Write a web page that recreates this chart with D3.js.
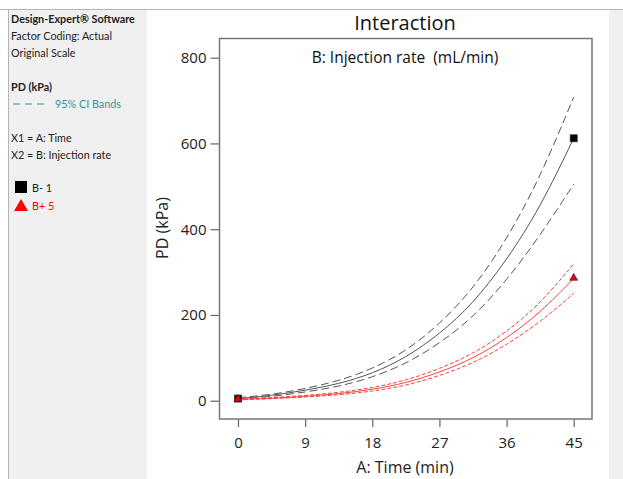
<!DOCTYPE html>
<html><head><meta charset="utf-8">
<script src="https://cdn.jsdelivr.net/npm/d3@7"></script>
<style>
html,body{margin:0;padding:0;background:#fff;}
svg{display:block;font-family:"Open Sans","Noto Sans",sans-serif;}
</style></head>
<body><svg id="c" width="623" height="479"></svg>
<script>
// ---- data ----
const timePts = [0, 4.5, 9, 13.5, 18, 22.5, 27, 31.5, 36, 40.5, 45];
const bLowFit   = [5, 12, 24, 39, 63, 100, 155, 226, 327, 450, 612];
const bLowUpper = [7, 14, 28, 46, 74, 115, 178, 260, 375, 520, 708];
const bLowLower = [3.5, 9.5, 20, 33, 54, 86, 133, 194, 280, 385, 505];
const bHighFit   = [3, 5.5, 10, 16, 26, 41, 66, 98, 145, 205, 285];
const bHighUpper = [4, 7, 12, 19, 30, 47, 74, 109, 160, 226, 319];
const bHighLower = [2, 4.5, 8.5, 13.5, 22, 35, 58, 87, 130, 183, 250];
const pointsLow  = [[0, 5], [45, 612]];
const pointsHigh = [[0, 3], [45, 285]];
const xTicks = [0, 9, 18, 27, 36, 45];
const yTicks = [0, 200, 400, 600, 800];
const legendLines = ["Design-Expert® Software", "Factor Coding: Actual", "Original Scale"];

const svg = d3.select("#c");

// background panels
svg.append("rect").attr("x", 8).attr("y", 9).attr("width", 139).attr("height", 470).attr("fill", "#f0f0f0");
svg.append("rect").attr("x", 609).attr("y", 9).attr("width", 14).attr("height", 470).attr("fill", "#f0f0f0");
svg.append("line").attr("x1", 0).attr("x2", 623).attr("y1", 9.5).attr("y2", 9.5).attr("stroke", "#b4b4b4");
svg.append("line").attr("x1", 8.5).attr("x2", 8.5).attr("y1", 9).attr("y2", 479).attr("stroke", "#b4b4b4");

// legend panel text
const lg = svg.append("g").attr("font-size", 10.8).attr("fill", "#222").attr("font-family", "Lato, sans-serif");
lg.append("text").attr("x", 11).attr("y", 23).attr("font-weight", "bold").text(legendLines[0]);
lg.append("text").attr("x", 11).attr("y", 40).text(legendLines[1]);
lg.append("text").attr("x", 11).attr("y", 57).text(legendLines[2]);
lg.append("text").attr("x", 11).attr("y", 91).attr("font-weight", "bold").text("PD (kPa)");
lg.append("line").attr("x1", 13).attr("x2", 48).attr("y1", 104).attr("y2", 104)
  .attr("stroke", "#2a9a9a").attr("stroke-width", 1.2).attr("stroke-dasharray", "7,5");
lg.append("text").attr("x", 55).attr("y", 108).attr("fill", "#2a9a9a").text("95% CI Bands");
lg.append("text").attr("x", 11).attr("y", 142).text("X1 = A: Time");
lg.append("text").attr("x", 11).attr("y", 159).text("X2 = B: Injection rate");
lg.append("rect").attr("x", 15).attr("y", 181).attr("width", 12).attr("height", 12).attr("fill", "#000");
lg.append("text").attr("x", 32).attr("y", 192).text("B- 1");
lg.append("path").attr("d", "M21,199 L28,211 L14,211 Z").attr("fill", "#ff0000");
lg.append("text").attr("x", 32).attr("y", 210).attr("fill", "#ff0000").text("B+ 5");

// scales
const x = d3.scaleLinear().domain([0, 45]).range([238, 573.7]);
const y = d3.scaleLinear().domain([0, 800]).range([400.7, 57.7]);
const frame = {l: 219.5, t: 38.5, r: 592, b: 419};

// titles
svg.append("text").attr("x", 405).attr("y", 30).attr("text-anchor", "middle")
  .attr("font-size", 20).attr("fill", "#111").text("Interaction");
svg.append("text").attr("x", 405).attr("y", 63).attr("text-anchor", "middle")
  .attr("font-size", 15.5).attr("fill", "#111").attr("xml:space", "preserve")
  .text("B: Injection rate\u00a0\u00a0(mL/min)");

// axes
const yAxis = svg.append("g").attr("transform", `translate(${frame.l},0)`)
  .call(d3.axisLeft(y).tickValues(yTicks).tickSize(9).tickPadding(4).tickSizeOuter(0));
yAxis.select(".domain").remove();
yAxis.selectAll("line").attr("stroke", "#666").attr("stroke-width", 1.2);
yAxis.selectAll("text").attr("font-size", 15).attr("fill", "#222").attr("font-family", "Open Sans, sans-serif");

const xAxis = svg.append("g").attr("transform", `translate(0,${frame.b})`)
  .call(d3.axisBottom(x).tickValues(xTicks).tickSize(8).tickPadding(10).tickSizeOuter(0));
xAxis.select(".domain").remove();
xAxis.selectAll("line").attr("stroke", "#666").attr("stroke-width", 1.2);
xAxis.selectAll("text").attr("font-size", 15).attr("fill", "#222").attr("font-family", "Open Sans, sans-serif");

svg.append("text").attr("x", 405).attr("y", 473).attr("text-anchor", "middle")
  .attr("font-size", 16).attr("fill", "#222").text("A: Time (min)");
svg.append("text").attr("transform", "translate(168,228) rotate(-90)").attr("text-anchor", "middle")
  .attr("font-size", 16).attr("fill", "#222").text("PD (kPa)");

// frame
svg.append("rect").attr("x", frame.l).attr("y", frame.t).attr("width", frame.r - frame.l)
  .attr("height", frame.b - frame.t).attr("fill", "none").attr("stroke", "#777").attr("stroke-width", 1.5);

// curves
const line = d3.line().x(d => x(d[0])).y(d => y(d[1])).curve(d3.curveBasis);
const zip = arr => timePts.map((t, i) => [t, arr[i]]);
const curves = [
  {v: bLowUpper, c: "#555", w: 1, dash: "8,4"},
  {v: bLowLower, c: "#555", w: 1, dash: "8,4"},
  {v: bLowFit, c: "#555", w: 1, dash: null},
  {v: bHighUpper, c: "#ff4040", w: 1, dash: "4,2"},
  {v: bHighLower, c: "#ff4040", w: 1, dash: "4,2"},
  {v: bHighFit, c: "#ff4040", w: 1, dash: null}
];
svg.append("g").selectAll("path").data(curves).join("path")
  .attr("d", d => line(zip(d.v))).attr("fill", "none")
  .attr("stroke", d => d.c).attr("stroke-width", d => d.w)
  .attr("stroke-dasharray", d => d.dash);

// markers
svg.append("g").selectAll("rect").data(pointsLow).join("rect")
  .attr("x", d => x(d[0]) - 3.5).attr("y", d => y(d[1]) - 3.5)
  .attr("width", 7).attr("height", 7).attr("fill", "#000").attr("stroke", "#333").attr("stroke-width", 0.8);
const tri = d3.symbol().type(d3.symbolTriangle).size(28);
svg.append("g").selectAll("path").data(pointsHigh).join("path")
  .attr("transform", d => `translate(${x(d[0])},${y(d[1]) - 0.5})`)
  .attr("d", tri).attr("fill", "#e00000").attr("stroke", "#333").attr("stroke-width", 0.6);
</script></body></html>
